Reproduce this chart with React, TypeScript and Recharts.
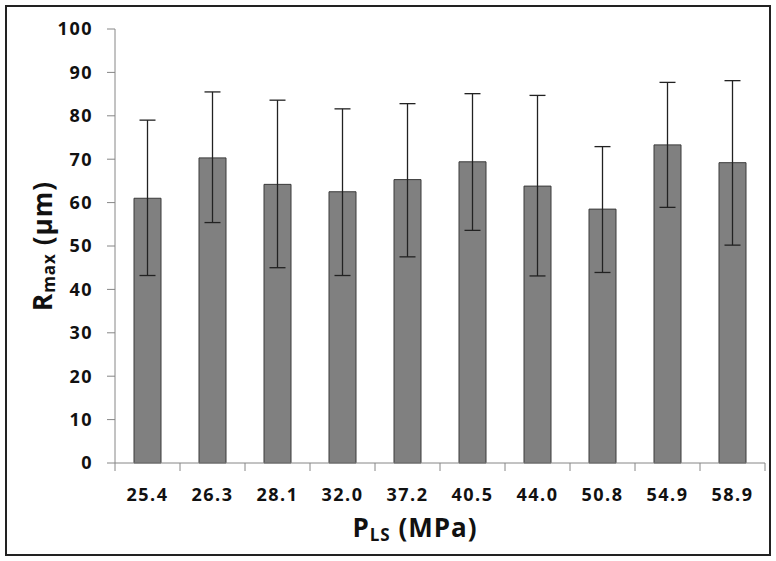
import React from 'react';
import { BarChart, Bar, XAxis, YAxis, ErrorBar } from 'recharts';

// P_LS (MPa) categories
const categories = ['25.4', '26.3', '28.1', '32.0', '37.2', '40.5', '44.0', '50.8', '54.9', '58.9'];
// mean R_max (µm) and the ends of the error bars
const means = [61.0, 70.3, 64.2, 62.5, 65.3, 69.4, 63.8, 58.5, 73.3, 69.2];
const upper = [79.0, 85.5, 83.6, 81.6, 82.8, 85.1, 84.7, 72.9, 87.7, 88.1];
const lower = [43.2, 55.4, 45.0, 43.2, 47.5, 53.6, 43.1, 43.9, 58.9, 50.2];
const yTicks = [0, 10, 20, 30, 40, 50, 60, 70, 80, 90, 100];

const chartData = categories.map((name, i) => ({
  name,
  value: means[i],
  err: [means[i] - lower[i], upper[i] - means[i]],
}));

const FONT = '"Open Sans", "DejaVu Sans", sans-serif';
const AXIS = '#868686';

// category label at the band centre, tick marks on the band edges (Excel style)
const CatTick = (props: any) => {
  const { x, y, payload, index, width, visibleTicksCount } = props;
  const band = width / visibleTicksCount;
  const left = x - band / 2;
  const right = x + band / 2;
  return (
    <g>
      <line x1={left} y1={y} x2={left} y2={y + 8} stroke={AXIS} />
      {index === visibleTicksCount - 1 && (
        <line x1={right} y1={y} x2={right} y2={y + 8} stroke={AXIS} />
      )}
      <text
        x={x}
        y={y + 38}
        textAnchor="middle"
        fontFamily={FONT}
        fontWeight="bold"
        fontSize={18}
        letterSpacing={1.5}
        fill="#111"
      >
        {payload.value}
      </text>
    </g>
  );
};

const YTitle = ({ viewBox }: any) => {
  const cx = viewBox.x + 42;
  const cy = viewBox.y + viewBox.height / 2;
  return (
    <text
      x={cx}
      y={cy}
      transform={`rotate(-90 ${cx} ${cy})`}
      textAnchor="middle"
      dominantBaseline="central"
      fontFamily={FONT}
      fontWeight="bold"
      fontSize={26}
      letterSpacing={1}
      fill="#111"
    >
      R<tspan fontSize={17} dy={6}>max</tspan>
      <tspan dy={-6}> (µm)</tspan>
    </text>
  );
};

const XTitle = ({ viewBox }: any) => {
  const cx = viewBox.x + viewBox.width / 2 - 25;
  return (
    <text
      x={cx}
      y={527}
      textAnchor="middle"
      dominantBaseline="central"
      fontFamily={FONT}
      fontWeight="bold"
      fontSize={26}
      letterSpacing={1}
      fill="#111"
    >
      P<tspan fontSize={17} dy={7}>LS</tspan>
      <tspan dy={-7}> (MPa)</tspan>
    </text>
  );
};

const App: React.FC = () => {
  return (
    <div style={{ position: 'relative', width: 776, height: 561, background: 'white' }}>
      <style>{'body{margin:0}'}</style>
      <div
        style={{
          position: 'absolute',
          left: 5,
          top: 5,
          width: 766,
          height: 551,
          border: '2px solid #222',
          boxSizing: 'border-box',
        }}
      />
      <BarChart
        width={776}
        height={561}
        data={chartData}
        margin={{ top: 29, right: 11, left: 0, bottom: 40 }}
        barSize={27}
        style={{ position: 'absolute', left: 0, top: 0 }}
      >
        <YAxis
          width={115}
          domain={[0, 100]}
          ticks={yTicks}
          interval={0}
          axisLine={{ stroke: AXIS }}
          tickLine={{ stroke: AXIS }}
          tickSize={8}
          tickMargin={14}
          tick={{ fill: '#111', fontSize: 18, fontWeight: 'bold', fontFamily: FONT, letterSpacing: 1.5 }}
          label={<YTitle />}
        />
        <XAxis
          dataKey="name"
          height={58}
          interval={0}
          axisLine={{ stroke: AXIS }}
          tickLine={false}
          tickSize={0}
          tickMargin={0}
          tick={<CatTick />}
          label={<XTitle />}
        />
        <Bar
          dataKey="value"
          fill="#808080"
          stroke="#3a3a3a"
          strokeWidth={1}
          isAnimationActive={false}
        >
          <ErrorBar dataKey="err" width={8} stroke="#222" strokeWidth={1.3} />
        </Bar>
      </BarChart>
    </div>
  );
};

export default App;
